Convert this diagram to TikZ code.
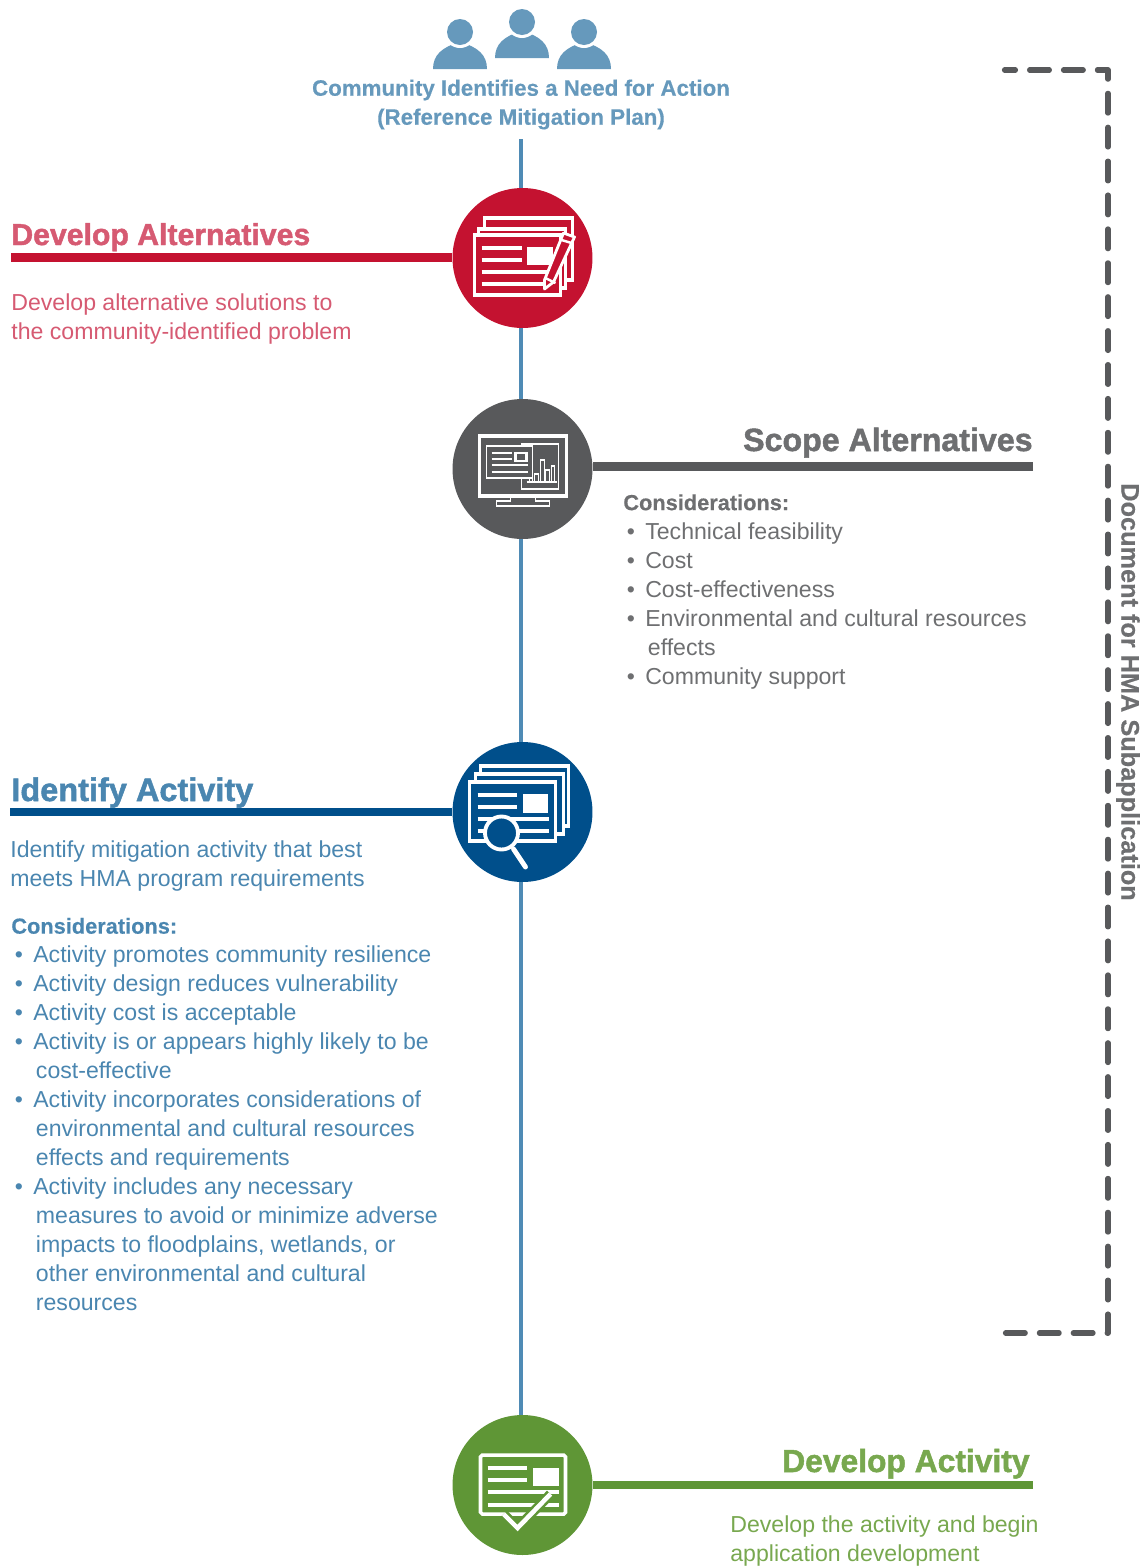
\documentclass[tikz,border=0pt]{standalone}
\usepackage{fontspec}
\setmainfont{Liberation Sans}[BoldFeatures={FakeBold=0.4}]
\newfontfamily\headfont{Liberation Sans}[BoldFeatures={FakeBold=1.5}]
\usetikzlibrary{calc}
\definecolor{spineblue}{HTML}{4F8BB5}
\definecolor{peopleblue}{HTML}{6699BC}
\definecolor{redbar}{HTML}{C41230}
\definecolor{redtext}{HTML}{D65A72}
\definecolor{greybar}{HTML}{58595B}
\definecolor{greytext}{HTML}{6E6F71}
\definecolor{bluebar}{HTML}{004F8B}
\definecolor{bluetext}{HTML}{4A86B0}
\definecolor{greenbar}{HTML}{5F9636}
\definecolor{greentext}{HTML}{78A84F}
\tikzset{
  stage/.style={circle,minimum size=2.8cm,inner sep=0pt,fill=#1},
  spine/.style={spineblue,line width=2.4pt},
  rulebar/.style={#1,line width=5pt},
  headline/.style={inner sep=0pt,font=\headfont\fontsize{#1}{20}\selectfont\bfseries},
  bodytext/.style={inner sep=0pt,align=left,anchor=north west,font=\fontsize{13.15}{16.5}\selectfont},
  thickicon/.style={white,line width=2pt},
  thinicon/.style={white,line width=0.9pt},
}
\newcommand{\bul}{\makebox[12.5pt][l]{\hspace{2pt}•}}
\newcommand{\ind}{\hspace{14pt}}
\newcommand{\considhead}{{\fontsize{12.4}{16.5}\selectfont\bfseries Considerations:}}
\begin{document}
\begin{tikzpicture}[x=0.02cm,y=-0.02cm]
\useasboundingbox (0,0) rectangle (1146,1566);

% people
\foreach \px/\py/\bot in {460/32/69,584/32/69,522/22/58}{
  \fill[peopleblue] (\px-27,\bot) .. controls (\px-27,\bot-14) and (\px-18,\bot-22) .. (\px,\bot-27)
    .. controls (\px+18,\bot-22) and (\px+27,\bot-14) .. (\px+27,\bot) -- cycle;
  \fill[white] (\px,\py) circle (16);
  \fill[peopleblue] (\px,\py) circle (13);
}
\node[inner sep=0pt,align=center,text=peopleblue,font=\fontsize{12.7}{16.5}\selectfont\bfseries] (need) at (521,104.5)
  {Community Identifies a Need for Action\\(Reference Mitigation Plan)};

\node[stage=redbar] (alt) at (522.5,258) {};
\node[stage=greybar] (scope) at (522.5,469) {};
\node[stage=bluebar] (activity) at (522.5,812) {};
\node[stage=greenbar] (develop) at (522.5,1485) {};

\draw[spine] (521,139) -- (alt.north -| need.south);
\draw[spine] (alt.south -| need.south) -- (scope.north -| need.south);
\draw[spine] (scope.south -| need.south) -- (activity.north -| need.south);
\draw[spine] (activity.south -| need.south) -- (develop.north -| need.south);

\coordinate (altend) at (11,257.5);
\coordinate (scopeend) at (1033,466.5);
\coordinate (activityend) at (10,812);
\coordinate (developend) at (1033,1485);
\draw[rulebar=redbar] (altend) -- (alt.west |- altend);
\draw[rulebar=greybar] (scopeend) -- (scope.east |- scopeend);
\draw[rulebar=bluebar] (activityend) -- (activity.west |- activityend);
\draw[rulebar=greenbar] (developend) -- (develop.east |- developend);

\node[headline=17.2,text=redtext,anchor=base west] (althead) at (11,245) {Develop Alternatives};
\node[bodytext,text=redtext] (alttext) at (11,293) {Develop alternative solutions to\\the community-identified problem};

\node[headline=18.3,text=greytext,anchor=base east] (scopehead) at (1033,451) {Scope Alternatives};
\node[bodytext,text=greytext] (scopetext) at (623,494) {\considhead\\
  \bul Technical feasibility\\
  \bul Cost\\
  \bul Cost-effectiveness\\
  \bul Environmental and cultural resources\\
  \ind effects\\
  \bul Community support};

\node[headline=18.5,text=bluetext,anchor=base west] (activityhead) at (11,801) {Identify Activity};
\node[bodytext,text=bluetext] (activitytext) at (10,840) {Identify mitigation activity that best\\meets HMA program requirements};
\node[bodytext,text=bluetext] (activitylist) at (11,917.5) {\considhead\\
  \bul Activity promotes community resilience\\
  \bul Activity design reduces vulnerability\\
  \bul Activity cost is acceptable\\
  \bul Activity is or appears highly likely to be\\
  \ind cost-effective\\
  \bul Activity incorporates considerations of\\
  \ind environmental and cultural resources\\
  \ind effects and requirements\\
  \bul Activity includes any necessary\\
  \ind measures to avoid or minimize adverse\\
  \ind impacts to floodplains, wetlands, or\\
  \ind other environmental and cultural\\
  \ind resources};

\node[headline=18.1,text=greentext,anchor=base east] (develophead) at (1030,1472) {Develop Activity};
\node[bodytext,text=greentext] (developtext) at (730,1515) {Develop the activity and begin\\application development};

% dashed bracket
\coordinate (brackettop) at (1004.5,70);
\coordinate (bracketbot) at (1004.5,1333);
\draw[greybar,line width=3pt,line cap=round,line join=round,dash pattern=on 11.2pt off 8.1pt,dash phase=5pt] (brackettop) -- (1108,70) -- (1108,1333) -- (bracketbot);
\node[rotate=-90,inner sep=0pt,text=greytext,font=\fontsize{14.4}{16}\selectfont\bfseries] (doclabel) at (1128,692) {Document for HMA Subapplication};

% red icon
\begin{scope}[shift={(alt.center)}]
  \draw[thickicon] (-38,-29) -- (-38,-40) -- (50,-40) -- (50,22) -- (43,22);
  \draw[thickicon] (-44,-23) -- (-44,-29) -- (43,-29) -- (43,30) -- (38,30);
  \draw[thickicon] (-48,-23) rectangle (38,37);
  \draw[thickicon] (-41,-10) -- (-1,-10) (-41,2) -- (-1,2) (-41,14) -- (24,14) (-41,26) -- (23,26);
  \fill[white] (4,-11) rectangle (30,7);
  \draw[white,line width=1.6pt,fill=redbar,line join=round] (22,31) -- (22,22) -- (41,-25) -- (52,-21) -- (31,24) -- cycle;
  \draw[white,line width=1.4pt] (39,-18) -- (49,-15) (23,20) -- (33,25);
\end{scope}

% grey icon
\begin{scope}[shift={(scope.center)}]
  \draw[white,line width=2pt] (-43,-33) rectangle (44,27);
  \draw[thinicon] (-12,27) -- (-12,32) -- (-26,32) -- (-26,37) -- (27,37) -- (27,32) -- (13,32) -- (13,27);
  \draw[thinicon] (-1,-23) -- (-1,-25) -- (36,-25) -- (36,20) -- (-1,20) -- (-1,9);
  \draw[thinicon] (-36,-23) rectangle (10,9);
  \draw[thinicon] (-31,-16) -- (-11,-16) (-31,-10) -- (-11,-10) (-31,-4) -- (5,-4) (-31,3) -- (5,3);
  \draw[white,line width=1.4pt] (-7,-16) rectangle (4,-8);
  \foreach \bl/\br/\bt in {7/10/9,12/16/5,18/22/-9,23/27/1,29/32/-3}{
    \draw[thinicon] (\bl,13) -- (\bl,\bt) -- (\br,\bt) -- (\br,13);
  }
  \draw[thinicon] (4,13) -- (34,13);
\end{scope}

% blue icon
\begin{scope}[shift={(activity.center)}]
  \draw[thickicon] (-42,-38) -- (-42,-46) -- (46,-46) -- (46,14) -- (41,14);
  \draw[thickicon] (-47,-30) -- (-47,-38) -- (41,-38) -- (41,22) -- (33,22);
  \draw[thickicon] (-53,-30) rectangle (33,29);
  \draw[thickicon] (-45,-17) -- (-6,-17) (-45,-5) -- (-6,-5) (-45,7) -- (26,7) (-45,19) -- (26,19);
  \fill[white] (0,-18) rectangle (25,1);
  \draw[white,line width=2.8pt,line cap=round] (-9,37) -- (3,55);
  \draw[white,line width=2.2pt,fill=bluebar] (-21,21) circle (16.5);
\end{scope}

% green icon
\begin{scope}[shift={(develop.center)}]
  \draw[thickicon,rounded corners=1pt] (-42,-30) rectangle (43,29);
  \draw[thickicon] (-35,-17) -- (4,-17) (-35,-5) -- (4,-5) (-35,7) -- (36,7) (-35,20) -- (36,20);
  \fill[white] (10,-17) rectangle (36,1);
  \draw[greenbar,line width=5.5pt] (-19,29) -- (-5,43) -- (28,9);
  \draw[white,line width=2.6pt] (-19,29) -- (-5,43) -- (28,9);
\end{scope}
\end{tikzpicture}
\end{document}
